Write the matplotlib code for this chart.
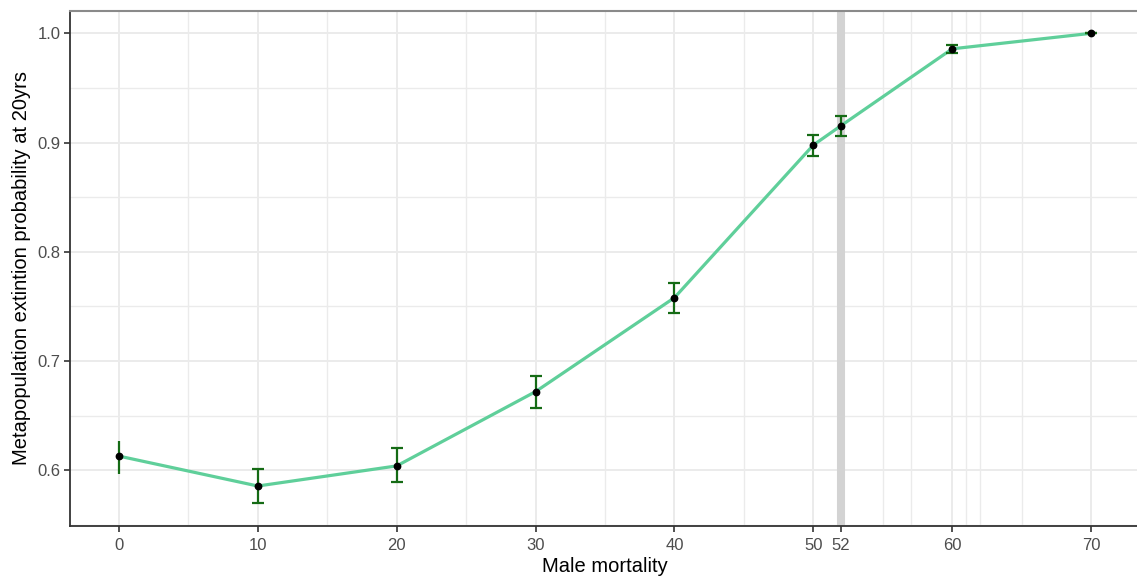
import matplotlib
matplotlib.use("Agg")
import matplotlib.pyplot as plt

# Data
mortality = [0, 10, 20, 30, 40, 50, 52, 60, 70]
extinction = [0.613, 0.5856, 0.604, 0.672, 0.758, 0.8977, 0.9155, 0.9858, 1.0]
err_low = [0.597, 0.5703, 0.589, 0.657, 0.744, 0.888, 0.906, 0.9817, 1.0]
err_high = [0.627, 0.601, 0.6204, 0.686, 0.771, 0.9069, 0.9244, 0.989, 1.0]

x_ticks = [0, 10, 20, 30, 40, 50, 52, 60, 70]
x_ticklabels = ["0", "10", "20", "30", "40", "50", "52", "60", "70"]
x_minor = [5, 15, 25, 35, 45, 55, 57, 61, 62, 65]
y_ticks = [0.6, 0.7, 0.8, 0.9, 1.0]
y_minor = [0.55, 0.65, 0.75, 0.85, 0.95]
highlight_x = 52

plt.rcParams['font.family'] = ['Liberation Sans', 'DejaVu Sans']

fig = plt.figure(figsize=(11.37, 5.86), dpi=100)
ax = fig.add_axes([70.3 / 1137, 60 / 586, (1139.7 - 70.3) / 1137, (526 - 10.7) / 586])

ax.set_xlim(-3.5, 73.5)
ax.set_ylim(0.549, 1.0207)

grid_c = '#EBEBEB'
for xm in x_minor:
    ax.axvline(xm, color=grid_c, lw=1.0, zorder=0)
for ym in y_minor:
    ax.axhline(ym, color=grid_c, lw=1.0, zorder=0)
for xt in x_ticks:
    ax.axvline(xt, color=grid_c, lw=1.4, zorder=0)
for yt in y_ticks:
    ax.axhline(yt, color=grid_c, lw=1.4, zorder=0)

ax.axvline(highlight_x, color='#D3D3D3', lw=5.8, zorder=1)

ax.plot(mortality, extinction, color='#5fcf9a', lw=2.3, zorder=2, solid_capstyle='butt')

yerr_lo = [e - l for e, l in zip(extinction, err_low)]
yerr_hi = [h - e for e, h in zip(extinction, err_high)]
# first point drawn without caps
ax.errorbar(mortality[:1], extinction[:1], yerr=[yerr_lo[:1], yerr_hi[:1]],
            fmt='none', ecolor='#156b15', elinewidth=1.6, capsize=0, zorder=3)
ax.errorbar(mortality[1:], extinction[1:], yerr=[yerr_lo[1:], yerr_hi[1:]],
            fmt='none', ecolor='#156b15', elinewidth=1.6, capsize=4, capthick=1.6, zorder=3)
ax.plot(mortality, extinction, 'o', color='black', ms=4.6, zorder=4)

ax.set_xticks(x_ticks)
ax.set_xticklabels(x_ticklabels)
ax.set_yticks(y_ticks)
ax.set_yticklabels(["0.6", "0.7", "0.8", "0.9", "1.0"])
ax.tick_params(axis='both', colors='#333333', labelcolor='#4D4D4D', labelsize=12,
               length=4.3, width=1.2)
ax.tick_params(axis='x', pad=4)
ax.tick_params(axis='y', pad=2.5)

for s in ['top', 'right']:
    ax.spines[s].set_color('#8a8a8a')
    ax.spines[s].set_linewidth(1.5)
for s in ['left', 'bottom']:
    ax.spines[s].set_color('#333333')
    ax.spines[s].set_linewidth(1.3)

ax.set_xlabel('Male mortality', fontsize=14.5, color='black', labelpad=3)
ax.set_ylabel('Metapopulation extintion probability at 20yrs', fontsize=14.5, color='black', labelpad=5)

fig.savefig('out.png', dpi=100)
